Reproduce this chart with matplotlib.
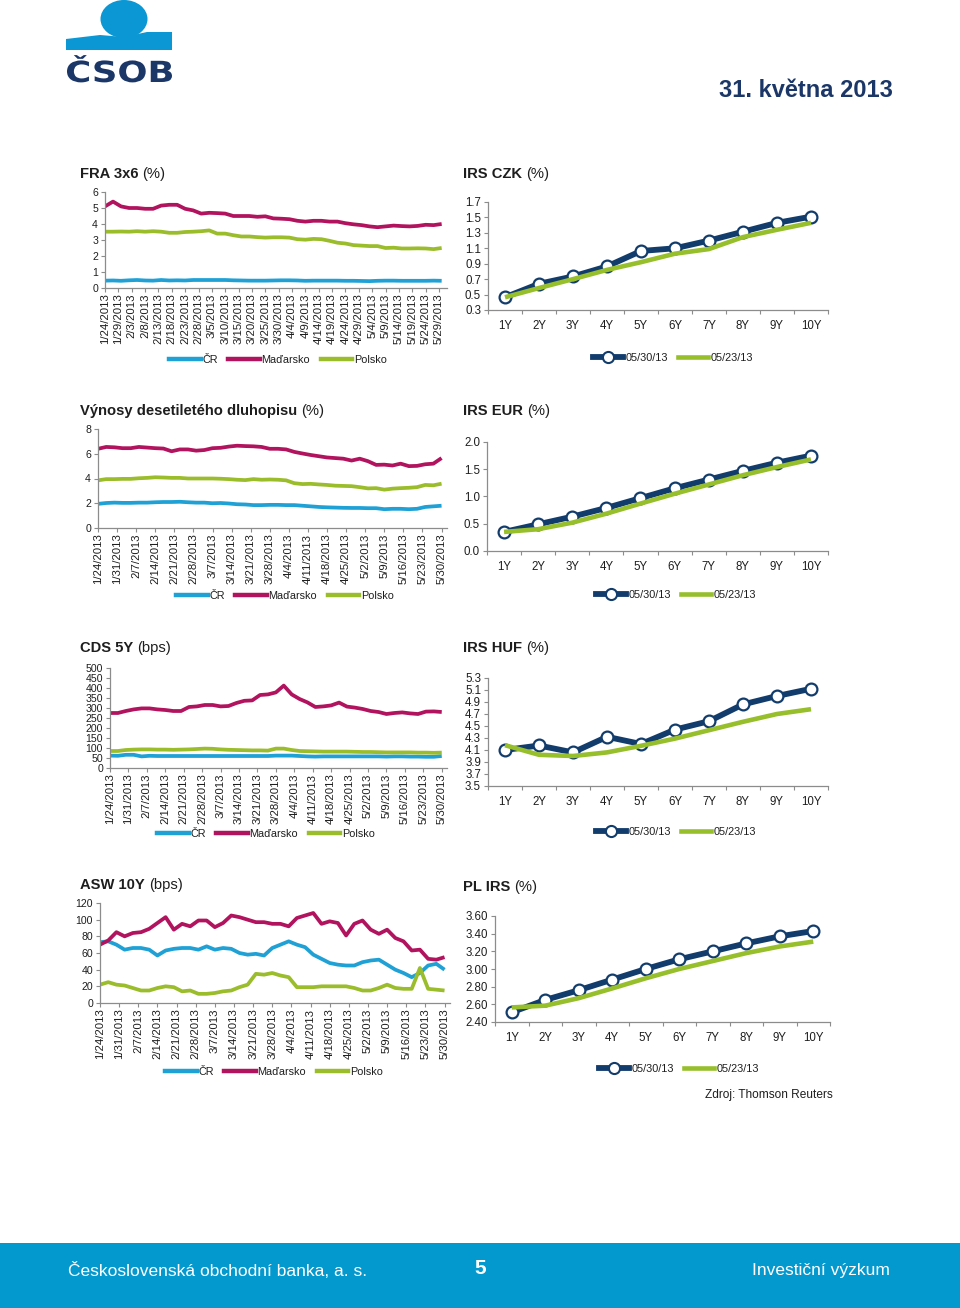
import matplotlib
matplotlib.use('Agg')
import matplotlib.pyplot as plt
import matplotlib.patches as mpatches
import matplotlib.dates as mdates
from matplotlib.lines import Line2D
from matplotlib.textpath import TextPath
from matplotlib.font_manager import FontProperties
from matplotlib.transforms import Affine2D
import numpy as np
import pandas as pd

plt.rcParams['font.family'] = ['Liberation Sans', 'DejaVu Sans']

# ---------------- data ----------------
sample_dates = pd.date_range('2013-01-24', '2013-05-30', freq='3D')

fra_cr = [0.46, 0.47, 0.45, 0.48, 0.50, 0.47, 0.46, 0.50, 0.47, 0.48,
          0.47, 0.50, 0.50, 0.50, 0.50, 0.50, 0.48, 0.47, 0.46, 0.46,
          0.46, 0.47, 0.48, 0.48, 0.47, 0.45, 0.46, 0.46, 0.46, 0.46,
          0.45, 0.45, 0.44, 0.43, 0.45, 0.46, 0.46, 0.45, 0.45, 0.45,
          0.45, 0.46, 0.45]
fra_hu = [5.10, 5.40, 5.10, 5.00, 5.00, 4.95, 4.95, 5.15, 5.20, 5.20,
          4.95, 4.85, 4.65, 4.70, 4.68, 4.65, 4.50, 4.50, 4.50, 4.45,
          4.48, 4.35, 4.33, 4.30, 4.20, 4.15, 4.20, 4.20, 4.15, 4.15,
          4.05, 3.98, 3.93, 3.85, 3.80, 3.85, 3.90, 3.87, 3.85, 3.88,
          3.95, 3.93, 4.00]
fra_pl = [3.52, 3.52, 3.53, 3.52, 3.55, 3.52, 3.55, 3.52, 3.45, 3.45,
          3.50, 3.52, 3.55, 3.60, 3.40, 3.40, 3.30, 3.22, 3.22, 3.18,
          3.15, 3.17, 3.17, 3.15, 3.05, 3.02, 3.07, 3.05, 2.95, 2.83,
          2.78, 2.68, 2.65, 2.62, 2.62, 2.50, 2.52, 2.47, 2.47, 2.48,
          2.47, 2.43, 2.50]

bond_cr = [1.95, 2.02, 2.05, 2.03, 2.03, 2.05, 2.05, 2.08, 2.10, 2.10,
           2.12, 2.08, 2.05, 2.05, 2.00, 2.02, 1.98, 1.92, 1.90, 1.85,
           1.85, 1.87, 1.87, 1.85, 1.85, 1.80, 1.75, 1.70, 1.67, 1.65,
           1.63, 1.62, 1.62, 1.60, 1.60, 1.52, 1.55, 1.55, 1.52, 1.55,
           1.70, 1.75, 1.80]
bond_hu = [6.40, 6.55, 6.52, 6.45, 6.45, 6.55, 6.50, 6.45, 6.42, 6.20,
           6.35, 6.35, 6.25, 6.30, 6.45, 6.48, 6.58, 6.65, 6.62, 6.60,
           6.55, 6.40, 6.40, 6.35, 6.15, 6.02, 5.90, 5.80, 5.70, 5.65,
           5.60, 5.45, 5.60, 5.40, 5.10, 5.12, 5.05, 5.20, 5.00, 5.02,
           5.15, 5.20, 5.65]
bond_pl = [3.85, 3.95, 3.95, 3.97, 3.97, 4.02, 4.05, 4.10, 4.08, 4.05,
           4.05, 4.00, 4.00, 4.00, 4.00, 3.98, 3.95, 3.90, 3.87, 3.95,
           3.90, 3.92, 3.90, 3.85, 3.62, 3.55, 3.57, 3.52, 3.48, 3.42,
           3.40, 3.38, 3.30, 3.20, 3.22, 3.10, 3.18, 3.22, 3.25, 3.30,
           3.48, 3.45, 3.58]

cds_cr = [62, 61, 66, 66, 58, 61, 60, 60, 60, 60,
          60, 60, 60, 60, 60, 60, 60, 60, 60, 60,
          60, 62, 62, 62, 60, 58, 57, 58, 58, 58,
          58, 58, 58, 58, 58, 57, 58, 58, 57, 57,
          56, 56, 60]
cds_hu = [275, 275, 285, 293, 298, 298, 293, 290, 285, 285,
          305, 308, 315, 315, 308, 310, 325, 336, 338, 365,
          368, 378, 412, 368, 345, 328, 305, 308, 313, 327,
          307, 302, 295, 285, 280, 270, 275, 278, 273, 270,
          282, 283, 280]
cds_pl = [85, 85, 90, 92, 93, 93, 92, 92, 91, 92,
          93, 95, 97, 96, 93, 91, 90, 89, 88, 88,
          87, 97, 97, 90, 85, 84, 83, 82, 82, 82,
          82, 81, 80, 80, 79, 78, 78, 78, 78, 77,
          77, 76, 77]

asw_cr = [73, 74, 70, 64, 66, 66, 64, 57, 63, 65,
          66, 66, 64, 68, 64, 66, 65, 60, 58, 59,
          57, 66, 70, 74, 70, 67, 58, 53, 48, 46,
          45, 45, 49, 51, 52, 46, 40, 36, 31, 36,
          45, 47, 40]
asw_hu = [70, 75, 85, 80, 84, 85, 89, 96, 103, 88,
          95, 92, 99, 99, 91, 96, 105, 103, 100, 97,
          97, 95, 95, 92, 102, 105, 108, 95, 98, 96,
          81, 95, 99, 88, 83, 88, 78, 74, 63, 64,
          53, 52, 55]
asw_pl = [22, 25, 22, 21, 18, 15, 15, 18, 20, 19,
          14, 15, 11, 11, 12, 14, 15, 19, 22, 35,
          34, 36, 33, 31, 19, 19, 19, 20, 20, 20,
          20, 18, 15, 15, 18, 22, 18, 17, 17, 42,
          17, 16, 15]

tenors = ['1Y', '2Y', '3Y', '4Y', '5Y', '6Y', '7Y', '8Y', '9Y', '10Y']
irs_labels = ['05/30/13', '05/23/13']
czk_new = [0.465, 0.64, 0.735, 0.865, 1.065, 1.10, 1.20, 1.315, 1.43, 1.51]
czk_old = [0.465, 0.585, 0.70, 0.82, 0.92, 1.03, 1.09, 1.245, 1.34, 1.43]
eur_new = [0.35, 0.49, 0.63, 0.79, 0.97, 1.15, 1.31, 1.47, 1.62, 1.75]
eur_old = [0.35, 0.40, 0.52, 0.685, 0.87, 1.05, 1.22, 1.39, 1.54, 1.68]
huf_new = [4.10, 4.175, 4.06, 4.32, 4.20, 4.44, 4.58, 4.86, 5.00, 5.12]
huf_old = [4.18, 4.02, 4.00, 4.06, 4.17, 4.29, 4.43, 4.57, 4.70, 4.78]
pl_new = [2.51, 2.65, 2.76, 2.88, 3.00, 3.11, 3.20, 3.29, 3.37, 3.43]
pl_old = [2.565, 2.585, 2.67, 2.78, 2.895, 3.00, 3.09, 3.18, 3.255, 3.31]

country_names = ['ČR', 'Maďarsko', 'Polsko']

# ---------------- style ----------------
W, H = 960, 1308
NAVY = '#123c6c'
GREEN = '#96bf2b'
C_CR = '#1fa1d6'
C_HU = '#b1135e'
C_PL = '#9bbd2c'
SPINE = '#8c8c8c'
TXT = '#1e1e1e'
LOGO_BLUE = '#0a97d3'
LOGO_NAVY = '#1b3768'
NARROW = ['Liberation Sans Narrow', 'Liberation Sans', 'DejaVu Sans']

fig = plt.figure(figsize=(W / 100, H / 100), dpi=100)
bg = fig.add_axes([0, 0, 1, 1])
bg.set_xlim(0, W)
bg.set_ylim(H, 0)
bg.axis('off')


def rect(l, t, r, b):
    return [l / W, 1 - b / H, (r - l) / W, (b - t) / H]


def style_axes(ax, ysize):
    for s in ['top', 'right']:
        ax.spines[s].set_visible(False)
    for s in ['left', 'bottom']:
        ax.spines[s].set_color(SPINE)
        ax.spines[s].set_linewidth(0.9)
    ax.tick_params(axis='y', direction='out', length=3, width=0.8, color=SPINE,
                   labelsize=ysize, labelcolor=TXT, pad=2)
    ax.patch.set_alpha(0)


def ts_chart(box, y_values, ylim, yticks, tick_days, tick_end):
    ax = fig.add_axes(rect(*box))
    x = mdates.date2num(sample_dates.to_pydatetime())
    for vals, col in zip(y_values, [C_CR, C_HU, C_PL]):
        ax.plot(x, vals, color=col, lw=2.7, solid_joinstyle='round',
                solid_capstyle='butt')
    ax.set_xlim(mdates.date2num(pd.Timestamp('2013-01-24')),
                mdates.date2num(pd.Timestamp('2013-06-01')))
    ax.set_ylim(*ylim)
    ax.set_yticks(yticks)
    ax.set_yticklabels([str(v) for v in yticks])
    ticks = pd.date_range('2013-01-24', tick_end, freq=f'{tick_days}D')
    ax.set_xticks(mdates.date2num(ticks.to_pydatetime()))
    ax.set_xticklabels([f'{d.month}/{d.day}/{d.year}' for d in ticks],
                       rotation=90, va='top', ha='center')
    style_axes(ax, 7.6)
    ax.tick_params(axis='x', direction='out', length=3, width=0.8, color=SPINE,
                   labelsize=8.2, labelcolor=TXT, pad=1)
    return ax


def irs_chart(box, new, old, ylim, yticks, fmt):
    ax = fig.add_axes(rect(*box))
    x = np.arange(1, len(tenors) + 1)
    ax.plot(x, new, color=NAVY, lw=4.2, marker='o', ms=8.5, mfc='white',
            mec=NAVY, mew=1.6, zorder=3, solid_joinstyle='round')
    ax.plot(x, old, color=GREEN, lw=3.3, zorder=4, solid_joinstyle='round',
            solid_capstyle='butt')
    ax.set_xlim(0.5, len(tenors) + 0.5)
    ax.set_ylim(*ylim)
    ax.set_yticks(yticks)
    ax.set_yticklabels([fmt.format(v) for v in yticks])
    ax.set_xticks(np.arange(0.5, len(tenors) + 1))
    ax.set_xticklabels([])
    ax.set_xticks(x, minor=True)
    ax.set_xticklabels(tenors, minor=True)
    style_axes(ax, 8.3)
    ax.tick_params(axis='x', which='major', direction='out', length=3,
                   width=0.8, color=SPINE)
    ax.tick_params(axis='x', which='minor', length=0, labelsize=8.3,
                   labelcolor=TXT, pad=7)
    for l in ax.get_children():
        if isinstance(l, Line2D):
            l.set_clip_on(False)
    return ax


renderer = fig.canvas.get_renderer()


def title(x, y, bold, normal):
    t = bg.text(x, y, bold, fontsize=10.6, fontweight='bold', color=TXT,
                va='center', ha='left')
    w = t.get_window_extent(renderer=renderer).width
    bg.text(x + w + 4, y, normal, fontsize=10.6, color=TXT,
            va='center', ha='left')


def ts_legend(cx, cy):
    hs = [Line2D([], [], color=c, lw=3.2) for c in [C_CR, C_HU, C_PL]]
    fig.legend(hs, country_names, loc='center',
               bbox_to_anchor=(cx / W, 1 - cy / H), ncol=3, frameon=False,
               fontsize=7.8, handlelength=2.9, handletextpad=0.15,
               columnspacing=1.0, borderpad=0, labelcolor=TXT)


def irs_legend(cx, cy):
    hs = [Line2D([], [], color=NAVY, lw=4.2, marker='o', ms=8, mfc='white',
                 mec=NAVY, mew=1.5, markevery=[1]),
          Line2D([], [], color=GREEN, lw=3.3)]
    fig.legend(hs, irs_labels, loc='center',
               bbox_to_anchor=(cx / W, 1 - cy / H), ncol=2, frameon=False,
               fontsize=7.8, handlelength=2.8, handletextpad=0.2,
               columnspacing=0.9, borderpad=0, labelcolor=TXT)


# ---------------- header ----------------
bg.add_patch(mpatches.Polygon([(66, 39), (100, 35), (124, 37), (147, 32),
                               (172, 32), (172, 50), (66, 50)], closed=True,
                              facecolor=LOGO_BLUE, edgecolor='none'))
bg.add_patch(mpatches.Ellipse((124, 19), 47, 38, facecolor=LOGO_BLUE,
                              edgecolor='none'))
# logo wordmark, fitted to the box x 67-172, cap band y 60-82
logo_prop = FontProperties(family='DejaVu Sans', weight='bold')
cap_box = TextPath((0, 0), 'SOB', size=1, prop=logo_prop).get_extents()
word = TextPath((0, 0), 'ČSOB', size=1, prop=logo_prop)
wbox = word.get_extents()
sx = 105 / wbox.width
sy = 22 / cap_box.height
tr = Affine2D().translate(-wbox.x0, 0).scale(sx, -sy).translate(67, 82)
bg.add_patch(mpatches.PathPatch(tr.transform_path(word), facecolor=LOGO_NAVY,
                                edgecolor='none'))
bg.text(893, 97, '31. května 2013', fontsize=17, fontweight='bold',
        color=LOGO_NAVY, ha='right', va='baseline', family=NARROW)

# ---------------- charts ----------------
title(80, 174, 'FRA 3x6', '(%)')
ts_chart((105, 192, 447, 288), [fra_cr, fra_hu, fra_pl], (0, 6),
         [0, 1, 2, 3, 4, 5, 6], 5, '2013-05-29')
ts_legend(278, 360)

title(463, 174, 'IRS CZK', '(%)')
irs_chart((488, 202, 828, 310), czk_new, czk_old, (0.3, 1.7),
          [0.3, 0.5, 0.7, 0.9, 1.1, 1.3, 1.5, 1.7], '{:.1f}')
irs_legend(673, 358)

title(80, 411, 'Výnosy desetiletého dluhopisu', '(%)')
ts_chart((98, 429, 447, 528), [bond_cr, bond_hu, bond_pl], (0, 8),
         [0, 2, 4, 6, 8], 7, '2013-05-30')
ts_legend(285, 596)

title(463, 411, 'IRS EUR', '(%)')
irs_chart((487, 442, 828, 551), eur_new, eur_old, (0.0, 2.0),
          [0.0, 0.5, 1.0, 1.5, 2.0], '{:.1f}')
irs_legend(676, 595)

title(80, 648, 'CDS 5Y', '(bps)')
ts_chart((110, 668, 447, 768), [cds_cr, cds_hu, cds_pl], (0, 500),
         list(range(0, 501, 50)), 7, '2013-05-30')
ts_legend(266, 834)

title(463, 648, 'IRS HUF', '(%)')
irs_chart((488, 678, 828, 786), huf_new, huf_old, (3.5, 5.3),
          [3.5, 3.7, 3.9, 4.1, 4.3, 4.5, 4.7, 4.9, 5.1, 5.3], '{:.1f}')
irs_legend(676, 832)

title(80, 885, 'ASW 10Y', '(bps)')
ts_chart((100, 903, 450, 1003), [asw_cr, asw_hu, asw_pl], (0, 120),
         list(range(0, 121, 20)), 7, '2013-05-30')
ts_legend(274, 1072)

title(463, 887, 'PL IRS', '(%)')
irs_chart((495, 916, 830, 1022), pl_new, pl_old, (2.4, 3.6),
          [2.4, 2.6, 2.8, 3.0, 3.2, 3.4, 3.6], '{:.2f}')
irs_legend(679, 1069)

bg.text(833, 1095, 'Zdroj: Thomson Reuters', fontsize=8.6, color=TXT,
        ha='right', va='center')

# ---------------- footer ----------------
bg.add_patch(mpatches.Rectangle((0, 1243), W, H - 1243,
                                facecolor='#0399cf', edgecolor='none'))
bg.text(68, 1271, 'Československá obchodní banka, a. s.', fontsize=12.5,
        color='white', ha='left', va='center', family=NARROW)
bg.text(480, 1269, '5', fontsize=15, fontweight='bold', color='white',
        ha='center', va='center', family=NARROW)
bg.text(890, 1271, 'Investiční výzkum', fontsize=12.5, color='white',
        ha='right', va='center', family=NARROW)

fig.savefig('out.png', dpi=100)
